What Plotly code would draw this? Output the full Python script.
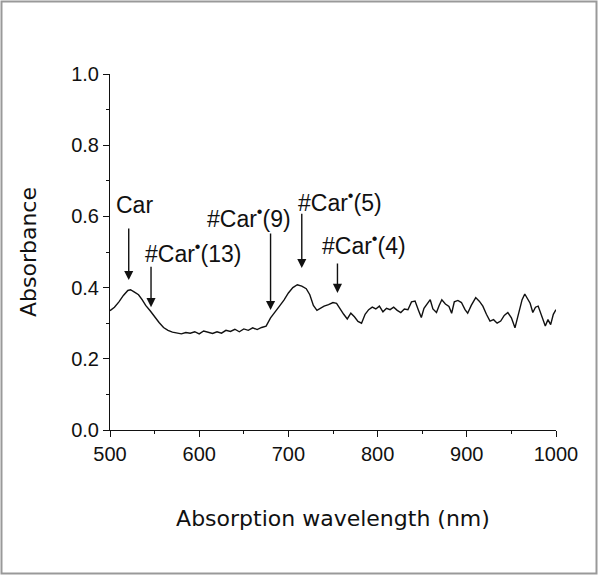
import plotly.graph_objects as go

# ---- data ----
wavelength = [500, 505, 510, 515, 520, 523, 527, 532, 536, 540, 545, 550, 555, 560, 565, 570, 575, 580,
              585, 590, 595, 600, 605, 610, 615, 620, 625, 630, 635, 640, 645, 650, 655, 660, 665, 670,
              675, 680, 685, 690, 695, 700, 705, 710, 715, 720, 724, 728, 732, 736, 740, 745, 750, 754,
              758, 762, 766, 770, 774, 778, 782, 786, 790, 794, 798, 802, 806, 810, 814, 818, 822, 826,
              830, 834, 838, 842, 846, 849, 852, 856, 859, 862, 866, 869, 872, 876, 880, 883, 886, 890,
              894, 898, 901, 905, 910, 914, 918, 922, 926, 930, 934, 938, 942, 946, 950, 954, 958, 962,
              965, 968, 971, 974, 977, 980, 984, 988, 991, 994, 997, 1000]
absorbance = [0.335, 0.345, 0.360, 0.378, 0.392, 0.394, 0.388, 0.380, 0.366, 0.350, 0.335, 0.318, 0.302,
              0.288, 0.280, 0.275, 0.272, 0.270, 0.274, 0.272, 0.276, 0.270, 0.278, 0.275, 0.271, 0.276,
              0.272, 0.280, 0.277, 0.283, 0.276, 0.284, 0.280, 0.287, 0.282, 0.288, 0.292, 0.315, 0.330,
              0.348, 0.365, 0.385, 0.400, 0.408, 0.404, 0.397, 0.380, 0.350, 0.336, 0.342, 0.348, 0.352,
              0.358, 0.356, 0.340, 0.325, 0.312, 0.328, 0.318, 0.305, 0.300, 0.325, 0.338, 0.345, 0.340,
              0.348, 0.332, 0.342, 0.338, 0.345, 0.336, 0.330, 0.340, 0.338, 0.360, 0.362, 0.335, 0.316,
              0.342, 0.355, 0.366, 0.340, 0.330, 0.350, 0.366, 0.354, 0.347, 0.328, 0.360, 0.364, 0.358,
              0.338, 0.328, 0.350, 0.372, 0.362, 0.348, 0.325, 0.306, 0.310, 0.300, 0.306, 0.322, 0.330,
              0.315, 0.287, 0.330, 0.366, 0.382, 0.370, 0.356, 0.330, 0.345, 0.348, 0.320, 0.292, 0.310,
              0.296, 0.325, 0.338]

x_ticks = [500, 600, 700, 800, 900, 1000]
y_ticks = [0.0, 0.2, 0.4, 0.6, 0.8, 1.0]
y_tick_labels = ["0.0", "0.2", "0.4", "0.6", "0.8", "1.0"]

# band labels: text, arrow x (nm), arrow tip y, arrow tail y, label x, label y
label_texts = ["Car", "#Car<sup>•</sup>(13)", "#Car<sup>•</sup>(9)", "#Car<sup>•</sup>(5)", "#Car<sup>•</sup>(4)"]
arrow_x = [521, 546, 680, 715, 755]
arrow_tip = [0.421, 0.345, 0.337, 0.455, 0.385]
arrow_tail = [0.570, 0.463, 0.556, 0.612, 0.472]
label_x = [527, 593, 656, 758, 785]
label_y = [0.632, 0.500, 0.598, 0.643, 0.522]

FONT = "Liberation Sans, Arial, sans-serif"
TITLE_FONT = "DejaVu Sans, sans-serif"

fig = go.Figure()
fig.add_trace(go.Scatter(x=wavelength, y=absorbance, mode="lines",
                         line=dict(color="#111111", width=1.4), showlegend=False,
                         hoverinfo="skip"))

annotations = []
for t, ax_, tip, tail, lx, ly in zip(label_texts, arrow_x, arrow_tip, arrow_tail, label_x, label_y):
    annotations.append(dict(x=ax_, y=tip, ax=ax_, ay=tail, xref="x", yref="y", axref="x", ayref="y",
                            text="", showarrow=True, arrowhead=2, arrowsize=1.3, arrowwidth=1.4,
                            arrowcolor="#111111"))
    annotations.append(dict(x=lx, y=ly, xref="x", yref="y", text=t, showarrow=False,
                            font=dict(family=FONT, size=23, color="#111111")))

W, H = 600, 577
L, R, T, B = 110, 44, 74, 147
pw, ph = W - L - R, H - T - B

fig.update_layout(
    width=W, height=H,
    margin=dict(l=L, r=R, t=T, b=B, autoexpand=False),
    paper_bgcolor="white", plot_bgcolor="white",
    annotations=annotations,
    shapes=[dict(type="rect", xref="paper", yref="paper",
                 x0=-(L - 1.5) / pw, x1=1 + (R - 3.5) / pw,
                 y0=-(B - 3.5) / ph, y1=1 + (T - 1.5) / ph,
                 line=dict(color="#999999", width=2), fillcolor="rgba(0,0,0,0)", layer="below")],
    xaxis=dict(range=[500, 1000], tickvals=x_ticks, ticks="outside", ticklen=6, tickwidth=1,
               tickcolor="#111111", showline=True, linecolor="#111111", linewidth=1,
               showgrid=False, zeroline=False,
               minor=dict(ticks="outside", ticklen=3, tickcolor="#111111", dtick=50),
               tickfont=dict(family=FONT, size=20, color="#111111"),
               title=dict(text="Absorption wavelength (nm)", standoff=46,
                          font=dict(family=TITLE_FONT, size=22, color="#111111"))),
    yaxis=dict(range=[0, 1.0], tickvals=y_ticks, ticktext=y_tick_labels, ticks="outside", ticklen=6,
               tickwidth=1, tickcolor="#111111", showline=True, linecolor="#111111", linewidth=1,
               showgrid=False, zeroline=False,
               minor=dict(ticks="outside", ticklen=3, tickcolor="#111111", dtick=0.1),
               tickfont=dict(family=FONT, size=20, color="#111111"),
               title=dict(text="Absorbance", standoff=28,
                          font=dict(family=TITLE_FONT, size=22, color="#111111"))),
)

fig.write_html("out.html", config={"displayModeBar": False},
               post_script="document.body.style.margin='0';")
